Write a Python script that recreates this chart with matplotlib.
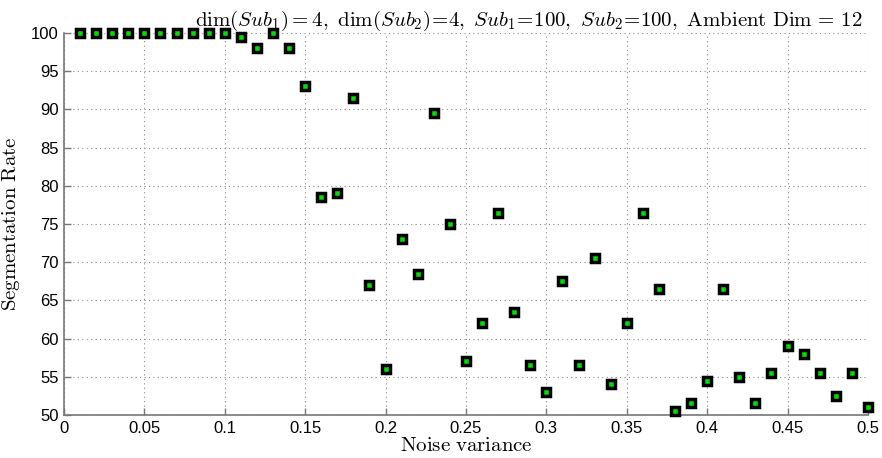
import matplotlib.pyplot as plt
import numpy as np

plt.rcParams['mathtext.fontset'] = 'cm'
plt.rcParams['font.family'] = 'Liberation Sans'

# noise variance levels and measured segmentation rate (%)
noise = [0.01, 0.02, 0.03, 0.04, 0.05, 0.06, 0.07, 0.08, 0.09, 0.10,
         0.11, 0.12, 0.13, 0.14, 0.15, 0.16, 0.17, 0.18, 0.19, 0.20,
         0.21, 0.22, 0.23, 0.24, 0.25, 0.26, 0.27, 0.28, 0.29, 0.30,
         0.31, 0.32, 0.33, 0.34, 0.35, 0.36, 0.37, 0.38, 0.39, 0.40,
         0.41, 0.42, 0.43, 0.44, 0.45, 0.46, 0.47, 0.48, 0.49, 0.50]
rate = [100, 100, 100, 100, 100, 100, 100, 100, 100, 100,
        99.5, 98, 100, 98, 93, 78.5, 79, 91.5, 67, 56,
        73, 68.5, 89.5, 75, 57, 62, 76.5, 63.5, 56.5, 53,
        67.5, 56.5, 70.5, 54, 62, 76.5, 66.5, 50.5, 51.5, 54.5,
        66.5, 55, 51.5, 55.5, 59, 58, 55.5, 52.5, 55.5, 51]

xticks = [0, 0.05, 0.1, 0.15, 0.2, 0.25, 0.3, 0.35, 0.4, 0.45, 0.5]
xticklabels = ['0', '0.05', '0.1', '0.15', '0.2', '0.25', '0.3', '0.35', '0.4', '0.45', '0.5']
yticks = [50, 55, 60, 65, 70, 75, 80, 85, 90, 95, 100]

fig = plt.figure(figsize=(8.82, 4.58), dpi=100)
ax = fig.add_axes([0.0726, 0.094, 0.9114, 0.834])

ax.plot(noise, rate, linestyle='none', marker='s', markersize=6.2,
        markerfacecolor='#00e000', markeredgecolor='black', markeredgewidth=2.5,
        clip_on=False, zorder=5)

ax.set_xlim(0, 0.5)
ax.set_ylim(50, 100)
ax.set_xticks(xticks)
ax.set_xticklabels(xticklabels)
ax.set_yticks(yticks)
ax.tick_params(direction='in', length=5, width=1, color='#777777', labelsize=12, pad=4)

ax.grid(True, linestyle=(0, (1, 3)), color='#888888', linewidth=0.8)
ax.set_axisbelow(True)
for side in ['top', 'right']:
    ax.spines[side].set_visible(False)
for side in ['left', 'bottom']:
    ax.spines[side].set_color('#777777')
    ax.spines[side].set_linewidth(1.2)

ax.set_xlabel(r'$\mathrm{Noise\ variance}$', fontsize=15, labelpad=0)
ax.set_ylabel(r'$\mathrm{Segmentation\ Rate}$', fontsize=15, labelpad=6)
ax.set_title(r'$\mathrm{dim}(Sub_1) = 4,\ \mathrm{dim}(Sub_2)\!=\!4,\ Sub_1\!=\!100,\ '
             r'Sub_2\!=\!100,\ \mathrm{Ambient\ Dim}\, = \,12$',
             fontsize=15, loc='right', pad=4, x=0.993)

fig.savefig('out.png', dpi=100)
